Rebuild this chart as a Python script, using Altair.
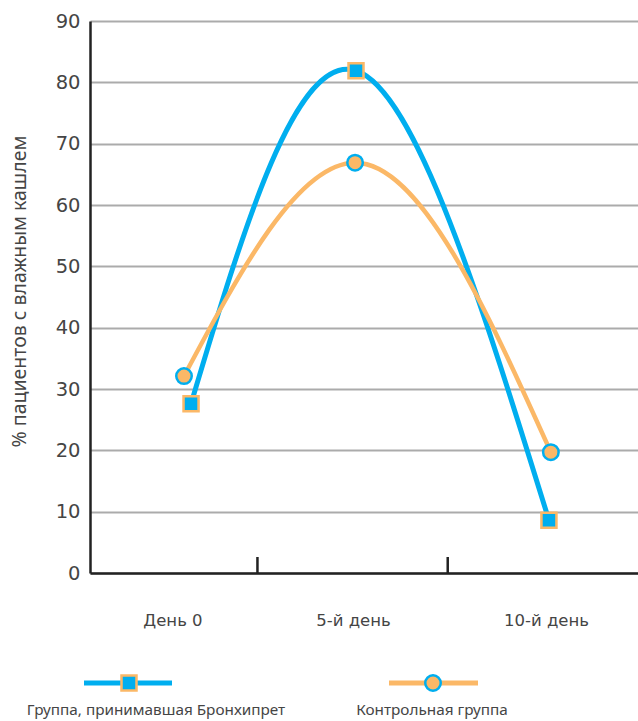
import altair as alt
import pandas as pd

# ---- data ----
days = ["День 0", "5-й день", "10-й день"]
day_label_pos = [0.556, 1.505, 2.519]
band_ticks = [1, 2]
series = ["Группа, принимавшая Бронхипрет", "Контрольная группа"]
bron_x = [0.651, 1.518, 2.532]
bron_y = [27.6, 81.9, 8.6]
ctrl_x = [0.614, 1.513, 2.542]
ctrl_y = [32.1, 66.9, 19.7]
y_ticks = list(range(0, 91, 10))

BLUE = "#00AEEF"
ORANGE = "#FBB867"
TEXT = "#454545"
AXIS = "#222222"
GRID = "#ABABAB"
FONT = "Noto Sans"
FONT_NUM = "DejaVu Sans"

W, H = 548, 552

df_b = pd.DataFrame({"x": bron_x, "y": bron_y, "s": series[0]})
df_c = pd.DataFrame({"x": ctrl_x, "y": ctrl_y, "s": series[1]})
df_lab = pd.DataFrame({"x": day_label_pos, "t": days})
df_ticks = pd.DataFrame({"x": band_ticks})

xs = alt.Scale(domain=[0.12, 3.0], nice=False, zero=False)
ys = alt.Scale(domain=[0, 90], nice=False)

x_enc = alt.X("x:Q", scale=xs, axis=alt.Axis(
    labels=False, ticks=False, grid=False, title=None,
    domainColor=AXIS, domainWidth=2.5))
y_enc = alt.Y("y:Q", scale=ys, axis=alt.Axis(
    values=y_ticks, ticks=False, grid=True, gridColor=GRID, gridWidth=2,
    domainColor=AXIS, domainWidth=2.5, labelFontSize=19.5, labelColor=TEXT,
    labelFont=FONT_NUM, labelPadding=10,
    title="% пациентов с влажным кашлем", titleFont=FONT, titleFontSize=19.5,
    titleFontWeight="normal", titleColor=TEXT, titleAngle=-90,
    titleX=-71, titleY=H / 2 - 6, titleAlign="center", titleBaseline="middle"))

line_b = alt.Chart(df_b).mark_line(
    interpolate="natural", color=BLUE, strokeWidth=5
).encode(x=x_enc, y=y_enc)

line_c = alt.Chart(df_c).mark_line(
    interpolate="monotone", color=ORANGE, strokeWidth=4.5
).encode(x="x:Q", y="y:Q")

pts_b = alt.Chart(df_b).mark_point(
    shape="square", filled=True, fill=BLUE, stroke=ORANGE, strokeWidth=2.5,
    size=225, opacity=1
).encode(x="x:Q", y="y:Q")

pts_c = alt.Chart(df_c).mark_point(
    shape="circle", filled=True, fill=ORANGE, stroke=BLUE, strokeWidth=2.5,
    size=240, opacity=1
).encode(x="x:Q", y="y:Q")

ticks = alt.Chart(df_ticks).mark_rule(color=AXIS, strokeWidth=2.5).encode(
    x="x:Q", y=alt.value(H), y2=alt.value(H - 16))

labels = alt.Chart(df_lab).mark_text(
    font=FONT_NUM, fontSize=16.5, color=TEXT, baseline="alphabetic", align="center"
).encode(x="x:Q", y=alt.value(605), text="t:N")

# ---- manual legend ----
leg_b_line = alt.Chart(pd.DataFrame({"s": [series[0]]})).mark_rule(
    color=BLUE, strokeWidth=5).encode(x=alt.value(-6), x2=alt.value(82), y=alt.value(662))
leg_b_pt = alt.Chart(pd.DataFrame({"s": [series[0]]})).mark_point(
    shape="square", filled=True, fill=BLUE, stroke=ORANGE, strokeWidth=2.5,
    size=225, opacity=1).encode(x=alt.value(39), y=alt.value(662))
leg_b_txt = alt.Chart(pd.DataFrame({"s": [series[0]]})).mark_text(
    font=FONT, fontSize=15.3, color=TEXT, align="center", baseline="alphabetic"
).encode(x=alt.value(66), y=alt.value(694), text="s:N")

leg_c_line = alt.Chart(pd.DataFrame({"s": [series[1]]})).mark_rule(
    color=ORANGE, strokeWidth=5).encode(x=alt.value(299), x2=alt.value(388), y=alt.value(662))
leg_c_pt = alt.Chart(pd.DataFrame({"s": [series[1]]})).mark_point(
    shape="circle", filled=True, fill=ORANGE, stroke=BLUE, strokeWidth=2.5,
    size=240, opacity=1).encode(x=alt.value(343), y=alt.value(662))
leg_c_txt = alt.Chart(pd.DataFrame({"s": [series[1]]})).mark_text(
    font=FONT, fontSize=15.3, color=TEXT, align="center", baseline="alphabetic"
).encode(x=alt.value(342), y=alt.value(694), text="s:N")

chart = alt.layer(
    line_b, line_c, ticks, pts_b, pts_c, labels,
    leg_b_line, leg_b_pt, leg_b_txt, leg_c_line, leg_c_pt, leg_c_txt
).properties(
    width=W, height=H,
    autosize=alt.AutoSizeParams(type="none"),
    padding={"left": 90, "top": 21, "right": 0, "bottom": 148},
    background="white",
).configure_view(stroke=None)

chart.save("out.html", embed_options={"renderer": "svg", "actions": False})
